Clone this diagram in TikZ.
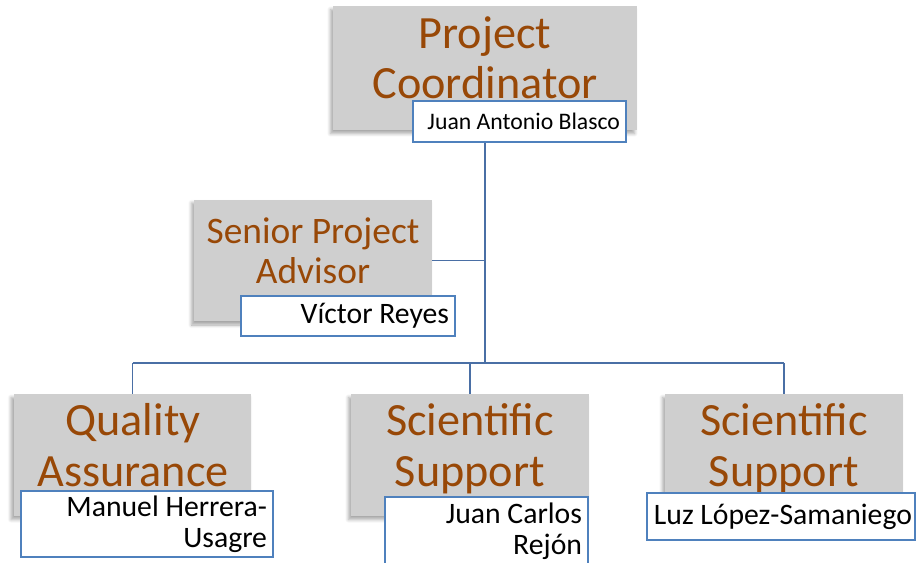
\documentclass[tikz,border=0pt]{standalone}
\usepackage{fontspec}
\setmainfont{Carlito}
\usetikzlibrary{backgrounds,shadows.blur}
\definecolor{titlebrown}{HTML}{984807}
\definecolor{boxgrey}{HTML}{CFCFCF}
\definecolor{linkblue}{HTML}{4A6FA5}
\definecolor{namebord}{HTML}{4F81BD}

\begin{document}
\begin{tikzpicture}[x=0.02cm,y=-0.02cm,
    rolebox/.style={fill=boxgrey,inner sep=0,minimum width=4.76cm,minimum height=2.44cm,
      blur shadow={shadow xshift=-0.05cm,shadow yshift=-0.07cm,shadow blur steps=6,shadow opacity=35}},
    roletext/.style={text=titlebrown,align=flush center,inner sep=0,anchor=base,text width=4.76cm,
      font=\fontsize{26.3}{29.5}\selectfont},
    namebox/.style={draw=namebord,line width=0.7pt,fill=white,align=flush right,inner xsep=0.12cm,inner ysep=0,
      font=\fontsize{16.9}{17.6}\selectfont},
    link/.style={draw=linkblue,line width=0.85pt}]
  \useasboundingbox (0,0) rectangle (916,562);

  % project coordinator
  \node[rolebox,minimum width=6.08cm,minimum height=2.48cm] (pc) at (485,68) {};
  \node[roletext,text width=6.08cm,font=\fontsize{26.3}{28.5}\selectfont] (pct) at (485,48) {Project\\Coordinator};
  \node[namebox,text width=4.02cm,minimum height=0.82cm,font=\fontsize{13.5}{15}\selectfont] (pcn) at (519.5,121.5) {Juan Antonio Blasco};

  % senior advisor
  \node[rolebox] (spa) at (313,260.5) {};
  \node[roletext,font=\fontsize{21.3}{22.8}\selectfont] (spat) at (313,243) {Senior Project\\Advisor};
  \node[namebox,text width=4.04cm,minimum height=0.80cm] (span) at (348,316) {Víctor Reyes};

  % bottom row
  \node[rolebox] (qa) at (132.5,455) {};
  \node[roletext] (qat) at (133,435) {Quality\\Assurance};
  \node[namebox,text width=4.80cm,minimum height=1.32cm] (qan) at (147,524) {Manuel Herrera-\\Usagre};

  \node[rolebox] (ssm) at (470,455) {};
  \node[roletext] (ssmt) at (470,435) {Scientific\\Support};
  \node[namebox,text width=3.82cm,minimum height=1.38cm] (ssmn) at (486.5,531.5) {Juan Carlos\\Rejón};

  \node[rolebox] (ssr) at (784,455) {};
  \node[roletext] (ssrt) at (784,435) {Scientific\\Support};
  \node[namebox,text width=5.24cm,inner xsep=0.06cm,minimum height=0.94cm] (ssrn) at (781,516.5) {Luz López-Samaniego};

  \coordinate (bus) at (484,363);

  \begin{scope}[on background layer]
    \draw[link] (pc.south) -- (pc.south |- bus);
    \draw[link] (spa.east) -- (spa.east -| pc.south);
    \draw[link] (qa.north |- bus) -- (ssr.north |- bus);
    \draw[link] (qa.north |- bus) -- (qa.north);
    \draw[link] (ssm.north |- bus) -- (ssm.north);
    \draw[link] (ssr.north |- bus) -- (ssr.north);
  \end{scope}
\end{tikzpicture}
\end{document}
